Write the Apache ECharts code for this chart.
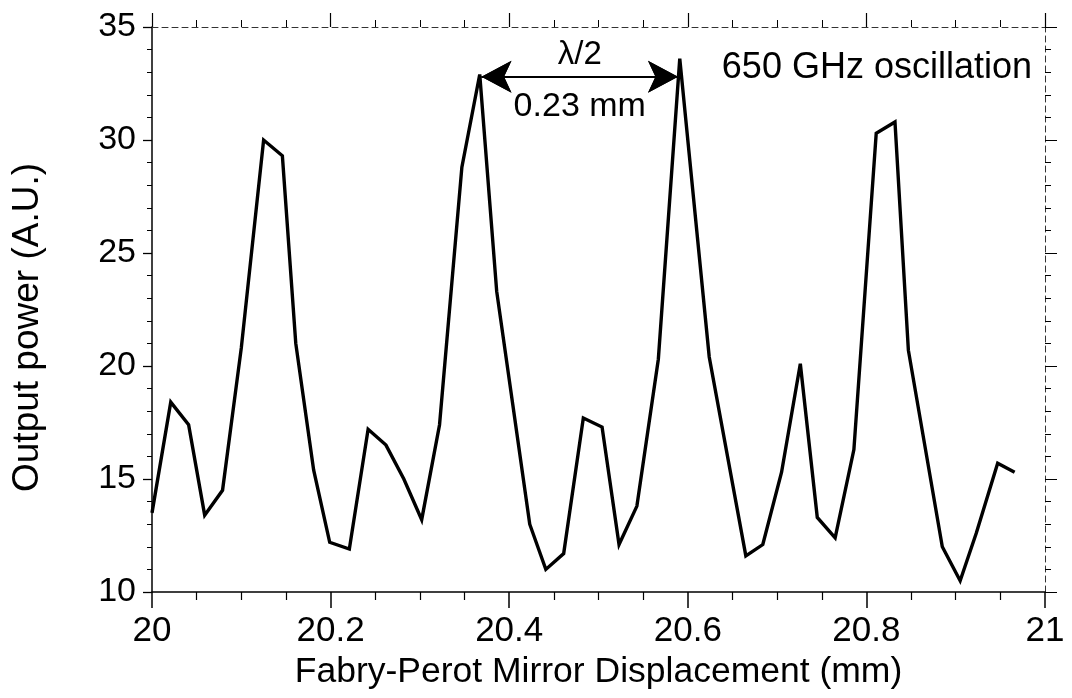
<!DOCTYPE html>
<html>
<head>
<meta charset="utf-8">
<script src="https://cdn.jsdelivr.net/npm/echarts@6/dist/echarts.min.js"></script>
<style>
html,body{margin:0;padding:0;background:#fff;}
#chart{width:1072px;height:698px;}
</style>
</head>
<body>
<div id="chart"></div>
<script>
// Mirror displacement (mm) and output power (A.U.)
const displacement = [20.000,20.021,20.041,20.059,20.079,20.100,20.125,20.146,20.161,20.181,
  20.199,20.221,20.242,20.262,20.282,20.302,20.322,20.347,20.367,20.386,
  20.404,20.423,20.441,20.461,20.483,20.504,20.523,20.543,20.567,20.591,
  20.624,20.665,20.684,20.705,20.726,20.745,20.765,20.786,20.811,20.832,
  20.847,20.885,20.905,20.923,20.947,20.966];
const power = [13.5,18.4,17.4,13.4,14.5,20.8,30.0,29.3,21.0,15.4,
  12.2,11.9,17.2,16.5,15.0,13.2,17.4,28.8,32.9,23.3,
  18.3,13.0,11.0,11.7,17.7,17.3,12.1,13.8,20.3,33.6,
  20.4,11.6,12.1,15.3,20.1,13.3,12.4,16.3,30.3,30.8,
  20.7,12.0,10.5,12.6,15.7,15.3];
const xTicks = [20, 20.2, 20.4, 20.6, 20.8, 21];
const yTicks = [10, 15, 20, 25, 30, 35];
const arrowStart = [20.369, 32.8];
const arrowEnd = [20.589, 32.8];
const arrowTop = 'λ/2';
const arrowBottom = '0.23 mm';
const noteText = '650 GHz oscillation';
const xTitle = 'Fabry-Perot Mirror Displacement (mm)';
const yTitle = 'Output power (A.U.)';

const FONT = '"Liberation Sans", Arial, Helvetica, sans-serif';
const data = displacement.map((x, i) => [x, power[i]]);

const chart = echarts.init(document.getElementById('chart'), null, {renderer: 'canvas'});
chart.setOption({
  animation: false,
  backgroundColor: '#ffffff',
  grid: {left: 152, right: 27, top: 27, bottom: 106, containLabel: false},
  xAxis: [{
    type: 'value', min: xTicks[0], max: xTicks[xTicks.length - 1], interval: 0.2,
    position: 'bottom',
    name: xTitle, nameLocation: 'middle', nameGap: 55,
    nameTextStyle: {fontFamily: FONT, fontSize: 35.5, color: '#000'},
    axisLine: {show: true, onZero: false, lineStyle: {color: '#000', width: 1.5}},
    axisTick: {show: true, inside: false, length: 16, lineStyle: {color: '#000', width: 1.5}},
    minorTick: {show: true, splitNumber: 4, length: 8, lineStyle: {color: '#000', width: 1.2}},
    axisLabel: {fontFamily: FONT, fontSize: 35, color: '#000', margin: 22,
      formatter: v => String(Math.round(v * 10) / 10)},
    splitLine: {show: false}
  }, {
    type: 'value', min: xTicks[0], max: xTicks[xTicks.length - 1], interval: 0.2,
    position: 'top',
    axisLine: {show: true, onZero: false, lineStyle: {color: '#333', width: 1, type: [6, 4]}},
    axisTick: {show: true, inside: false, length: 14, lineStyle: {color: '#000', width: 1.2}},
    minorTick: {show: true, splitNumber: 4, length: 7, lineStyle: {color: '#000', width: 1}},
    axisLabel: {show: false},
    splitLine: {show: false}
  }],
  yAxis: [{
    type: 'value', min: yTicks[0], max: yTicks[yTicks.length - 1], interval: 5,
    position: 'left',
    name: yTitle, nameLocation: 'middle', nameGap: 106,
    nameTextStyle: {fontFamily: FONT, fontSize: 37, color: '#000', padding: [0, 36, 0, 0]},
    axisLine: {show: true, onZero: false, lineStyle: {color: '#000', width: 1.5}},
    axisTick: {show: true, inside: false, length: 9, lineStyle: {color: '#000', width: 1.3}},
    minorTick: {show: true, splitNumber: 5, length: 5, lineStyle: {color: '#000', width: 1}},
    axisLabel: {fontFamily: FONT, fontSize: 34, color: '#000', margin: 16},
    splitLine: {show: false}
  }, {
    type: 'value', min: yTicks[0], max: yTicks[yTicks.length - 1], interval: 5,
    position: 'right',
    axisLine: {show: true, onZero: false, lineStyle: {color: '#333', width: 1, type: [6, 4]}},
    axisTick: {show: true, inside: false, length: 12, lineStyle: {color: '#000', width: 1}},
    minorTick: {show: true, splitNumber: 5, length: 6, lineStyle: {color: '#000', width: 1}},
    axisLabel: {show: false},
    splitLine: {show: false}
  }],
  graphic: [{
    type: 'text', right: 40, top: 50,
    style: {text: noteText, fontFamily: FONT, fontSize: 36, fill: '#000'}
  }],
  series: [{
    type: 'line',
    xAxisIndex: 0, yAxisIndex: 0,
    data: data,
    showSymbol: false, symbol: 'none',
    smooth: false,
    lineStyle: {color: '#000', width: 3.4, join: 'miter', miterLimit: 5},
    markLine: {
      silent: true,
      symbol: ['arrow', 'arrow'],
      symbolSize: [24, 30],
      lineStyle: {color: '#000', width: 2, type: 'solid'},
      data: [
        [{coord: arrowStart, label: {show: true, position: 'insideMiddleTop', formatter: arrowTop,
            fontFamily: FONT, fontSize: 33, color: '#000', distance: 5}},
         {coord: arrowEnd}],
        [{coord: arrowStart, label: {show: true, position: 'insideMiddleBottom', formatter: arrowBottom,
            fontFamily: FONT, fontSize: 34, color: '#000', distance: 13}},
         {coord: arrowEnd}]
      ]
    }
  }]
});
</script>
</body>
</html>
